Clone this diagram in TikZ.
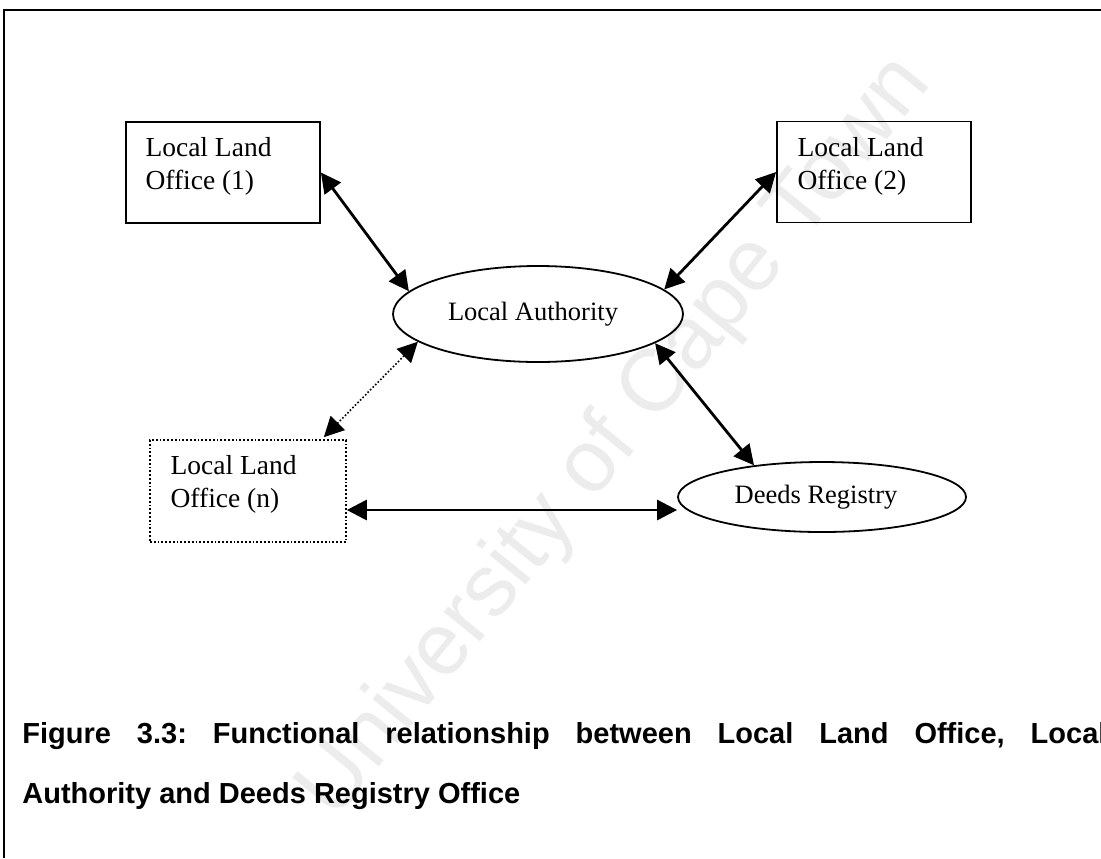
\documentclass[tikz,border=0pt]{standalone}
\usepackage{fontspec}
\setmainfont{Liberation Serif}
\newfontfamily\capfont{Liberation Sans}
\usetikzlibrary{shapes.geometric,arrows.meta}

\begin{document}
\begin{tikzpicture}[x=0.5pt,y=-0.5pt,
  officebox/.style={draw, line width=0.9pt, minimum width=97pt, minimum height=50.5pt, inner sep=0pt},
  officetext/.style={anchor=north west, inner sep=0pt, align=left,
    font=\fontsize{13.75}{16.5}\selectfont},
  bodyellipse/.style={draw, ellipse, line width=0.9pt, inner sep=0pt,
    font=\fontsize{13.25}{15}\selectfont},
  biarrow/.style={line width=1.4pt, {Triangle[length=10pt,width=10pt]}-{Triangle[length=10pt,width=10pt]}},
  captext/.style={anchor=base west, inner sep=0pt, font=\capfont\bfseries\fontsize{14.5}{17}\selectfont},
  frameline/.style={line width=1.3pt}
]
% page and bounding box
\fill[white] (0,0) rectangle (1101,858);
\useasboundingbox (0,0) rectangle (1101,858);

% watermark
\node[font=\capfont\fontsize{44}{44}\selectfont, text=gray!15, rotate=51, inner sep=0pt]
  (wm) at (616,438) {University of Cape Town};

% frame (top and left edges)
\coordinate (ftl) at (4,10);
\coordinate (ftr) at (1101,10);
\coordinate (fbl) at (4,858);
\draw[frameline] (ftr) -- (ftl) -- (fbl);

% offices
\node[officebox] (b1) at (223,172.5) {};
\node[officetext] (b1t) at ([xshift=10pt,yshift=-8pt]b1.north west) {Local Land\\Office (1)};

\node[officebox] (b2) at (874,172) {};
\node[officetext] (b2t) at ([xshift=10.5pt,yshift=-8pt]b2.north west) {Local Land\\Office (2)};

\node[officebox, densely dotted, line width=0.8pt, minimum width=98pt, minimum height=51pt] (bn) at (248,491) {};
\node[officetext] (bnt) at ([xshift=10.5pt,yshift=-8pt]bn.north west) {Local Land\\Office (n)};

% authorities
\node[bodyellipse, minimum width=145pt, minimum height=48pt] (la) at (538,314) {\hspace*{-5pt}Local Authority};
\node[bodyellipse, minimum width=144pt, minimum height=35pt] (dr) at (822,497) {\hspace*{-6pt}Deeds Registry};

% relationships
\draw[biarrow] (b1.east) -- (la.170);
\draw[biarrow] (b2.west) -- (la.11);
\draw[biarrow] (la.346) -- (dr.155);
\draw[biarrow, line width=0.8pt, densely dotted] (la.193) -- ([xshift=-11.5pt,yshift=1pt]bn.north east);
\draw[biarrow] ([yshift=-9.5pt]bn.east) -- ([yshift=-9.5pt]bn.east -| dr.west);

% caption
\node[captext] (cap1) at (22,743) {\frenchspacing\makebox[542pt][s]{Figure 3.3: Functional relationship between Local Land Office, Local}};
\node[captext] (cap2) at (22,803) {Authority and Deeds Registry Office};
\end{tikzpicture}
\end{document}
